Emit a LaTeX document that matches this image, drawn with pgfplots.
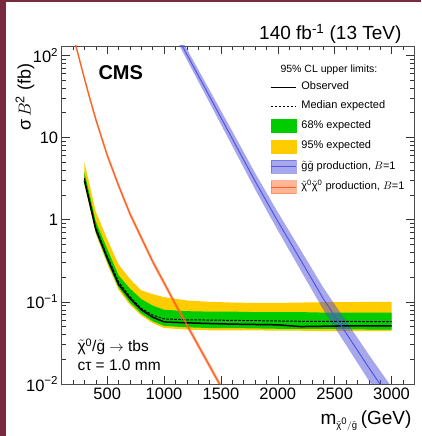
\documentclass[border=0pt]{standalone}
\usepackage{amsmath}
\usepackage{fontspec}
\setmainfont{Liberation Sans}
\usepackage{pgfplots}
\pgfplotsset{compat=1.18}
\usepackage{pgfplotstable}
\usepgfplotslibrary{fillbetween}

\definecolor{cmsgreen}{RGB}{0,204,0}
\definecolor{cmsyellow}{RGB}{255,204,0}
\definecolor{gluline}{RGB}{85,85,220}
\definecolor{gluband}{RGB}{80,80,220}
\definecolor{chiline}{RGB}{255,95,30}
\definecolor{chiband}{RGB}{255,110,50}
\definecolor{slidered}{RGB}{122,42,62}

\newcommand{\tl}[1]{$\tilde{\text{#1}}$}

% mass, observed, expected, 68% band, 95% band
\pgfplotstableread{
m obs exp g1lo g1hi g2lo g2hi
300 3.0 3.2 2.8 3.8 2.65 5.0
400 0.76 0.80 0.70 0.95 0.67 1.25
500 0.34 0.36 0.31 0.44 0.29 0.58
600 0.163 0.175 0.150 0.21 0.14 0.285
700 0.110 0.115 0.098 0.145 0.092 0.19
800 0.080 0.083 0.072 0.108 0.068 0.138
900 0.065 0.069 0.058 0.090 0.055 0.124
1000 0.057 0.062 0.051 0.080 0.048 0.114
1200 0.0555 0.0605 0.049 0.077 0.046 0.104
1400 0.0545 0.0600 0.048 0.076 0.045 0.100
1600 0.0535 0.0595 0.048 0.076 0.045 0.098
1800 0.0530 0.0590 0.0475 0.075 0.045 0.097
2000 0.0525 0.0585 0.047 0.075 0.0445 0.097
2200 0.0500 0.0580 0.047 0.075 0.0445 0.098
2400 0.0505 0.0578 0.047 0.074 0.044 0.099
2600 0.0510 0.0577 0.0465 0.074 0.044 0.099
2800 0.0510 0.0576 0.0460 0.074 0.044 0.100
3000 0.0510 0.0575 0.0458 0.074 0.044 0.100
}\limits

% gluino pair production
\pgfplotstableread{
m c lo hi
1100 186 162 213
1200 103 88.6 120
1400 31.6 26.5 37.8
1600 9.66 7.87 11.9
1800 2.95 2.34 3.71
2000 0.955 0.739 1.23
2200 0.324 0.243 0.430
2400 0.109 0.080 0.149
2600 0.0417 0.0298 0.0584
2800 0.0158 0.0110 0.0228
3000 0.0062 0.0042 0.0092
}\gluino

% neutralino pair production
\pgfplotstableread{
m c lo hi
200 178 164 193
250 96 88.6 104
300 52 48 56.4
350 29 26.8 31.4
400 16.6 15.3 18.0
500 6.1 5.63 6.61
600 2.6 2.40 2.82
700 1.18 1.09 1.28
800 0.603 0.556 0.654
900 0.309 0.285 0.335
1000 0.170 0.157 0.184
1100 0.0933 0.0861 0.101
1200 0.0525 0.0484 0.0569
1300 0.0295 0.0272 0.032
1400 0.0166 0.0153 0.018
1500 0.0093 0.00858 0.0101
1600 0.0052 0.0048 0.00564
}\neutralino

\begin{document}
\begin{tikzpicture}
\fill[slidered] (0,0) rectangle (6pt,436pt);
\fill[slidered] (0,434pt) rectangle (421pt,436pt);

\begin{axis}[
at={(61.7pt,52pt)}, anchor=south west,
scale only axis,
width=352.6pt, height=338pt,
xmin=100, xmax=3200,
ymode=log, ymin=0.01, ymax=130,
xtick={500,1000,...,3000},
xticklabels={500,1000,1500,2000,2500,3000},
minor xtick={100,200,...,3200},
ytick={0.01,0.1,1,10,100},
yticklabels={10\textsuperscript{−2},10\textsuperscript{−1},1,10,10\textsuperscript{2}},
minor ytick={0.02,0.03,0.04,0.05,0.06,0.07,0.08,0.09,0.2,0.3,0.4,0.5,0.6,0.7,0.8,0.9,2,3,4,5,6,7,8,9,20,30,40,50,60,70,80,90},
tick align=inside,
major tick length=8pt, minor tick length=4pt,
tick style={black!80, line width=0.6pt},
axis line style={black!70, line width=0.8pt},
ticklabel style={font=\fontsize{16.5}{18}\selectfont},
/pgf/number format/assume math mode=true,
legend style={at={(0.591,0.8956)}, anchor=north west, draw=none, fill=none,
  inner sep=0pt, outer sep=0pt, row sep=7pt, column sep=5pt,
  font=\fontsize{11}{13}\selectfont,
  nodes={inner sep=0pt, text height=8.5pt, text depth=3.5pt}},
legend cell align=left,
]
\addlegendimage{legend image code/.code={\draw[black,line width=1.3pt] (0pt,0pt) -- (25pt,0pt);}}
\addlegendentry{Observed}
\addlegendimage{legend image code/.code={\draw[black,line width=1pt,dash pattern=on 2.5pt off 1.5pt] (0pt,0pt) -- (25pt,0pt);}}
\addlegendentry{Median expected}
\addlegendimage{legend image code/.code={\fill[cmsgreen] (0pt,-6.5pt) rectangle (25pt,6.5pt);}}
\addlegendentry{68\% expected}
\addlegendimage{legend image code/.code={\fill[cmsyellow] (0pt,-6.5pt) rectangle (25pt,6.5pt);}}
\addlegendentry{95\% expected}
\addlegendimage{legend image code/.code={\fill[gluband,opacity=0.5] (0pt,-6.5pt) rectangle (25pt,6.5pt); \draw[gluline,line width=1.2pt] (0pt,0pt) -- (25pt,0pt);}}
\addlegendentry{\tl{g}\tl{g} production, $B$=1}
\addlegendimage{legend image code/.code={\fill[chiband,opacity=0.5] (0pt,-6.5pt) rectangle (25pt,6.5pt); \draw[chiline,line width=1.2pt] (0pt,0pt) -- (25pt,0pt);}}
\addlegendentry{\tl{χ}\textsuperscript{0}\tl{χ}\textsuperscript{0} production, $B$=1}

% expected bands
\addplot[name path=y2hi, draw=none, forget plot] table[x=m,y=g2hi] {\limits};
\addplot[name path=y2lo, draw=none, forget plot] table[x=m,y=g2lo] {\limits};
\addplot[cmsyellow, forget plot] fill between[of=y2hi and y2lo];
\addplot[name path=g1hi, draw=none, forget plot] table[x=m,y=g1hi] {\limits};
\addplot[name path=g1lo, draw=none, forget plot] table[x=m,y=g1lo] {\limits};
\addplot[cmsgreen, forget plot] fill between[of=g1hi and g1lo];
\addplot[black, line width=1pt, dash pattern=on 2.5pt off 1.5pt, forget plot] table[x=m,y=exp] {\limits};
\addplot[black, line width=1.5pt, forget plot] table[x=m,y=obs] {\limits};

% gluino cross section
\addplot[name path=glhi, draw=none, forget plot] table[x=m,y=hi] {\gluino};
\addplot[name path=gllo, draw=none, forget plot] table[x=m,y=lo] {\gluino};
\addplot[gluband, opacity=0.5, forget plot] fill between[of=glhi and gllo];
\addplot[gluline, line width=1pt, forget plot] table[x=m,y=c] {\gluino};

% neutralino cross section
\addplot[name path=chhi, draw=none, forget plot] table[x=m,y=hi] {\neutralino};
\addplot[name path=chlo, draw=none, forget plot] table[x=m,y=lo] {\neutralino};
\addplot[chiband, opacity=0.5, forget plot] fill between[of=chhi and chlo];
\addplot[chiline, line width=1.2pt, forget plot] table[x=m,y=c] {\neutralino};
\end{axis}

\node[anchor=base west, font=\fontsize{10.5}{12}\selectfont] at (277pt,363pt) {95\% CL upper limits:};
\node[anchor=base east, font=\fontsize{19}{22}\selectfont] at (405pt,396.5pt) {140 fb\textsuperscript{-1} (13 TeV)};
\node[anchor=base west, font=\bfseries\fontsize{20}{24}\selectfont] at (95pt,356pt) {CMS};
\node[rotate=90, anchor=east, font=\fontsize{18}{20}\selectfont] at (25pt,376pt) {σ\,$B^{\text{2}}$ (fb)};
\node[anchor=base east, font=\fontsize{19}{22}\selectfont] at (415pt,12pt) {m$_{\scriptscriptstyle\tilde{\text{χ}}^{\text{0}}/\tilde{\text{g}}}$\,(GeV)};
\node[anchor=base west, font=\fontsize{15.5}{18}\selectfont] at (74pt,84.3pt) {\tl{χ}\textsuperscript{0}/\tl{g} $\rightarrow$ tbs};
\node[anchor=base west, font=\fontsize{15.5}{18}\selectfont] at (74pt,65.3pt) {cτ = 1.0 mm};

\pgfresetboundingbox
\useasboundingbox (0,0) rectangle (421pt,436pt);
\end{tikzpicture}
\end{document}
